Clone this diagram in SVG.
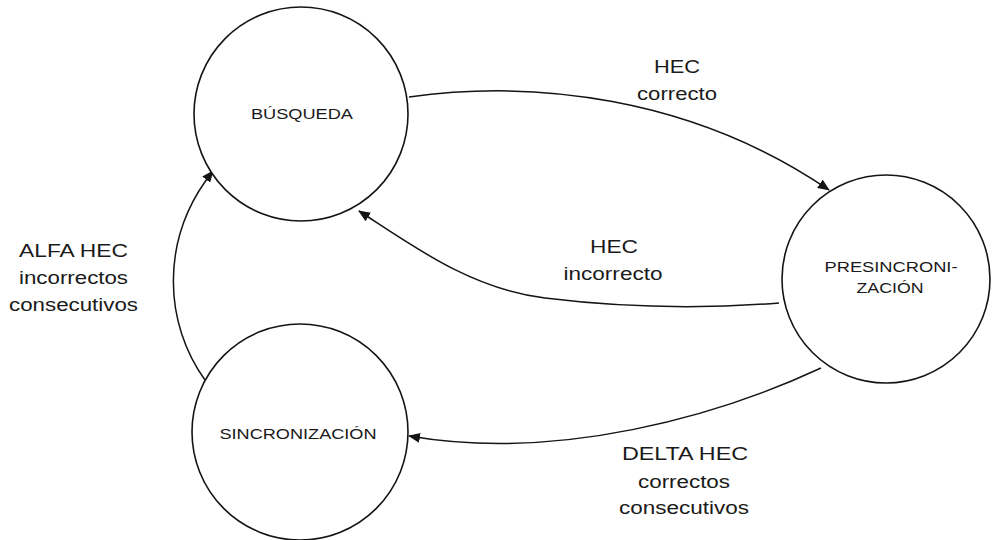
<svg xmlns="http://www.w3.org/2000/svg" width="995" height="540" viewBox="0 0 995 540">
  <style>
    .state { fill: #ffffff; stroke: #141414; stroke-width: 1.6; }
    .name { font-family: "Liberation Sans", Arial, sans-serif; font-size: 15.5px; fill: #1a1a1a; text-anchor: middle; }
    .lbl { font-family: "Liberation Sans", Arial, sans-serif; font-size: 18px; fill: #1a1a1a; text-anchor: middle; }
    .edge { fill: none; stroke: #141414; stroke-width: 1.5; marker-end: url(#arrow); }
  </style>
  <defs>
    <marker id="arrow" viewBox="0 0 12 10" refX="11" refY="5" markerWidth="12" markerHeight="10" markerUnits="userSpaceOnUse" orient="auto">
      <path d="M0,0 L12,5 L0,10 Z" fill="#141414"/>
    </marker>
  </defs>
  <rect width="995" height="540" fill="#ffffff"/>

  <!-- transitions -->
  <g id="connectors">
    <path class="edge" d="M409,97 C530,80 690,95 829,190"/>
    <path class="edge" d="M779,303 C690,310 610,306 545,298 C470,289 410,244 359,211"/>
    <path class="edge" d="M821,368 C720,415 560,462 409,436"/>
    <path class="edge" d="M205,380 C165,325 158,240 213,171"/>
  </g>

  <!-- states -->
  <g id="busqueda">
    <circle class="state" cx="301" cy="114" r="107"/>
    <text class="name" x="302" y="119" textLength="102" lengthAdjust="spacingAndGlyphs">BÚSQUEDA</text>
  </g>
  <g id="presincronizacion">
    <circle class="state" cx="886" cy="279" r="104"/>
    <text class="name" x="891" y="272" textLength="133" lengthAdjust="spacingAndGlyphs">PRESINCRONI-</text>
    <text class="name" x="890" y="293" textLength="67" lengthAdjust="spacingAndGlyphs">ZACIÓN</text>
  </g>
  <g id="sincronizacion">
    <circle class="state" cx="300" cy="432" r="108"/>
    <text class="name" x="298" y="439" textLength="157" lengthAdjust="spacingAndGlyphs">SINCRONIZACIÓN</text>
  </g>

  <!-- transition labels -->
  <g id="labels">
    <text class="lbl" x="677" y="73" textLength="46" lengthAdjust="spacingAndGlyphs">HEC</text>
    <text class="lbl" x="677" y="100" textLength="80" lengthAdjust="spacingAndGlyphs">correcto</text>

    <text class="lbl" x="614" y="253" textLength="48" lengthAdjust="spacingAndGlyphs">HEC</text>
    <text class="lbl" x="613" y="280" textLength="99" lengthAdjust="spacingAndGlyphs">incorrecto</text>

    <text class="lbl" x="73.5" y="257" textLength="109" lengthAdjust="spacingAndGlyphs">ALFA HEC</text>
    <text class="lbl" x="73.5" y="284" textLength="109" lengthAdjust="spacingAndGlyphs">incorrectos</text>
    <text class="lbl" x="73.5" y="311" textLength="129" lengthAdjust="spacingAndGlyphs">consecutivos</text>

    <text class="lbl" x="685" y="460" textLength="126" lengthAdjust="spacingAndGlyphs">DELTA HEC</text>
    <text class="lbl" x="684" y="488" textLength="92" lengthAdjust="spacingAndGlyphs">correctos</text>
    <text class="lbl" x="684" y="514" textLength="130" lengthAdjust="spacingAndGlyphs">consecutivos</text>
  </g>
</svg>
